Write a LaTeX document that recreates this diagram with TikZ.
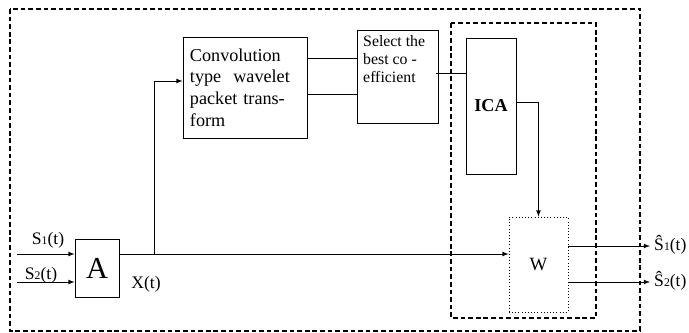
\documentclass[tikz,border=0pt]{standalone}
\usepackage{fontspec}
\setmainfont{Liberation Serif}
\usetikzlibrary{arrows,positioning,calc}

\begin{document}
\begin{tikzpicture}[x=0.03cm, y=-0.03cm]
  % ICA separation block diagram
  \tikzstyle{block} = [rectangle, draw, line width=0.7pt, inner sep=0pt]
  \tikzstyle{frame} = [draw, dashed, line width=0.9pt, dash pattern=on 4pt off 2.5pt]
  \tikzstyle{connection} = [line width=0.8pt, ->, >=latex]
  \tikzstyle{wire} = [line width=0.8pt]
  \tikzstyle{sig} = [font=\fontsize{15}{16}\selectfont, inner sep=0pt]

  \useasboundingbox (0,0) rectangle (689,333);

  % Frames
  \draw[frame] (10,9) rectangle (640,331);
  \draw[frame] (451,23) rectangle (596,318);

  % Blocks
  \node[block, minimum width=1.32cm, minimum height=1.74cm, font=\fontsize{26}{28}\selectfont] (mix) at (97,268) {A};
  \node[block, minimum width=3.72cm, minimum height=3.03cm, text width=3.3cm, align=left, font=\fontsize{15.5}{18.5}\selectfont] (cwpt) at (245,87.5) {Convolution\\type\ \ wavelet\\packet trans-\\form};
  \node[block, minimum width=2.43cm, minimum height=2.79cm] (select) at (397.5,76.5) {};
  \node[anchor=north west, inner sep=0pt, align=left, font=\fontsize{13.5}{15.6}\selectfont] (selecttxt) at (363,35) {Select the\\best co -\\efficient};
  \node[block, minimum width=1.5cm, minimum height=4.08cm, font=\fontsize{15.5}{17}\selectfont\bfseries] (ica) at (491,106) {ICA};
  \node[block, dotted, minimum width=1.77cm, minimum height=2.85cm, font=\fontsize{16}{17}\selectfont] (unmix) at (538.5,264.5) {W};

  % Coordinates
  \coordinate (in1) at (17,254);
  \coordinate (in2) at (17,282);
  \coordinate (branch) at (154,254);
  \coordinate (band1) at (cwpt.east |- 0,58);
  \coordinate (band2) at (cwpt.east |- 0,94);
  \coordinate (best) at (436,73);
  \coordinate (icaout) at (ica.east |- 0,102);
  \coordinate (out1) at (650,246);
  \coordinate (out2) at (650,282);

  % Connection Lines
  \draw[connection] (in1) -- (in1 -| mix.west);
  \draw[connection] (in2) -- (in2 -| mix.west);
  \draw[connection] (in1 -| mix.east) -- (in1 -| unmix.west);
  \draw[connection] (branch) |- (cwpt.west |- 0,81);
  \draw[wire] (band1) -- (band1 -| select.west);
  \draw[wire] (band2) -- (band2 -| select.west);
  \draw[line width=0.6pt] (best) -- (best -| ica.west);
  \draw[connection] (icaout) -| (unmix.north);
  \draw[connection] (out1 -| unmix.east) -- (out1);
  \draw[connection] (out2 -| unmix.east) -- (out2);

  % Signal Labels
  \node[sig] (s1) at (48,240) {S{\fontsize{10}{11}\selectfont 1}(t)};
  \node[sig] (s2) at (41,275) {S{\fontsize{10}{11}\selectfont 2}(t)};
  \node[sig] (xt) at (146,284) {X(t)};
  \node[sig, anchor=west] (y1) at (654,245) {Ŝ{\fontsize{10}{11}\selectfont 1}(t)};
  \node[sig, anchor=west] (y2) at (654,281) {Ŝ{\fontsize{10}{11}\selectfont 2}(t)};

\end{tikzpicture}
\end{document}
